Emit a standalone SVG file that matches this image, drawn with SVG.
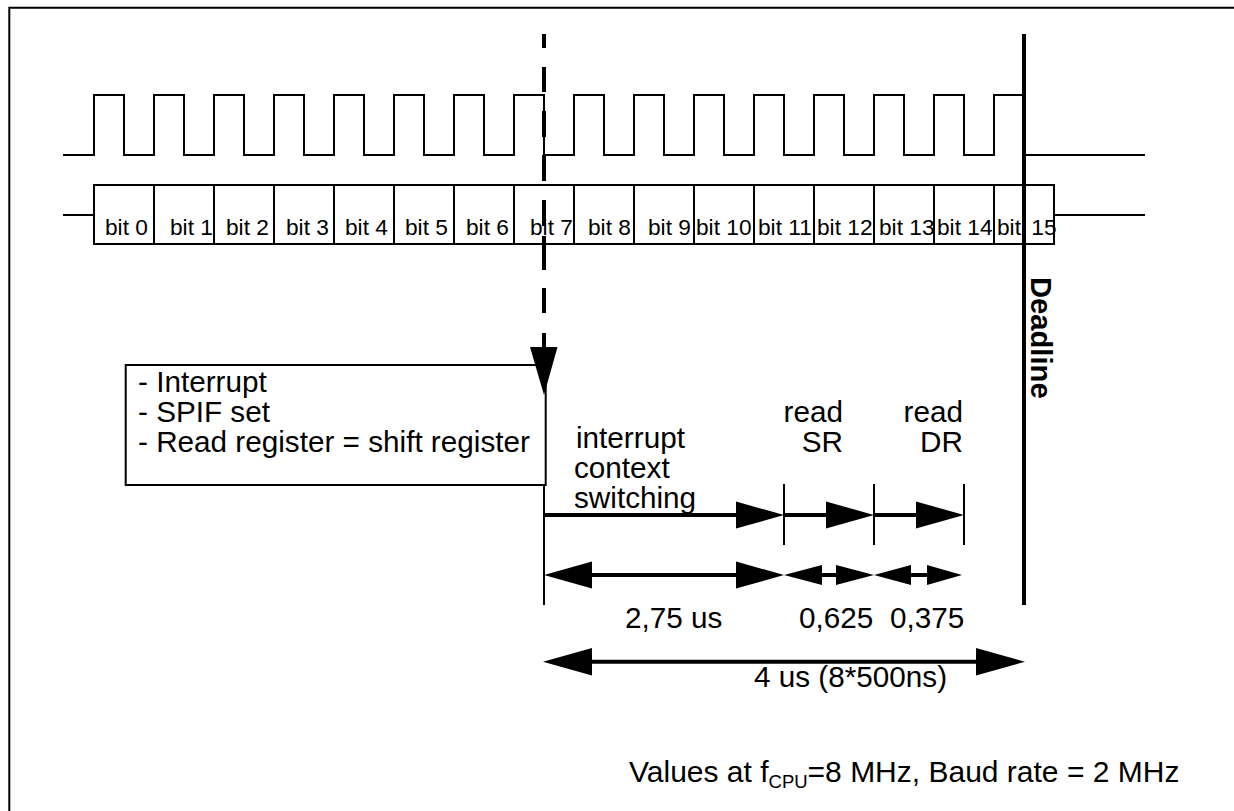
<svg xmlns="http://www.w3.org/2000/svg" width="1234" height="811" viewBox="0 0 1234 811">
<style>
text{font-family:"Liberation Sans",Arial,sans-serif;fill:#000}
.t{font-size:29.7px}
.b{font-size:22.7px}
.e{text-anchor:end}
.l{fill:none;stroke:#000;stroke-width:2}
.m{fill:none;stroke:#000;stroke-width:4}
.k{fill:none;stroke:#000;stroke-width:4}
.h{fill:#000;stroke:none}
</style>
<rect width="1234" height="811" fill="#fff"/>
<g id="frame"><path class="l" d="M9.3 811V7.7H1234"/></g>
<g id="clock-signal"><path class="l" d="M63 155H94V95H124V155H154V95H184V155H214V95H244V155H274V95H304V155H334V95H364V155H394V95H424V155H454V95H484V155H514V95H544V155H574V95H604V155H634V95H664V155H694V95H724V155H754V95H784V155H814V95H844V155H874V95H904V155H934V95H964V155H994V95H1024V155H1145"/></g>
<g id="data-bits">
<path class="l" d="M63 215H94M1054 215H1145M94 185H1054V244H94ZM154 185V244M214 185V244M274 185V244M334 185V244M394 185V244M454 185V244M514 185V244M574 185V244M634 185V244M694 185V244M754 185V244M814 185V244M874 185V244M934 185V244M994 185V244"/>
<g class="b">
<text x="105" y="235">bit 0</text><text x="170" y="235">bit 1</text><text x="226" y="235">bit 2</text><text x="286" y="235">bit 3</text><text x="345" y="235">bit 4</text><text x="405" y="235">bit 5</text><text x="466" y="235">bit 6</text><text x="530" y="235">bit 7</text><text x="588" y="235">bit 8</text><text x="648" y="235">bit 9</text><text x="696" y="235">bit 10</text><text x="758" y="235">bit 11</text><text x="817" y="235">bit 12</text><text x="879" y="235">bit 13</text><text x="937" y="235">bit 14</text><text x="997" y="235" word-spacing="4">bit 15</text>
</g>
</g>
<g id="interrupt-box">
<rect class="l" x="125.7" y="365" width="420" height="120"/>
<text class="t" x="138" y="392">- Interrupt</text>
<text class="t" x="138" y="422">- SPIF set</text>
<text class="t" x="138" y="452">- Read register = shift register</text>
</g>
<g id="connectors">
<path class="k" d="M544 34V48M544 67V92M544 111V137M544 155V181M544 200V226M544 236V270M544 288V313M544 333V350"/>
<polygon class="h" points="530,347 557.5,347 544,395"/>
<path class="k" d="M1024 34V605"/>
<path class="l" d="M544 485V605M784 484V545M874 484V545M964 484V545"/>
<path class="m" d="M544 515H740M784 515H830M874 515H920M592 575H740M820 575H838M910 575H928M590 661.7H980"/>
<polygon class="h" points="736,501.5 784,515 736,528.5"/>
<polygon class="h" points="826,501.5 874,515 826,528.5"/>
<polygon class="h" points="916,501.5 964,515 916,528.5"/>
<polygon class="h" points="592,561.5 544,575 592,588.500"/>
<polygon class="h" points="736,561.5 784,575 736,588.5"/>
<polygon class="h" points="822,565 784,575 822,585"/>
<polygon class="h" points="836,565 874,575 836,585"/>
<polygon class="h" points="911,565 874,575 911,585"/>
<polygon class="h" points="927,565 962,575 927,585"/>
<polygon class="h" points="592,648 543,661.7 592,675.400"/>
<polygon class="h" points="976,648 1025,661.7 976,675.400"/>
</g>
<g id="deadline-label"><text font-size="29.2" font-weight="700" transform="translate(1031 277) rotate(90)">Deadline</text></g>
<g id="labels">
<text class="t" x="576" y="448">interrupt</text>
<text class="t" x="574" y="478">context</text>
<text class="t" x="574" y="508">switching</text>
<text class="t e" x="843" y="422">read</text>
<text class="t e" x="843" y="452">SR</text>
<text class="t e" x="963" y="422">read</text>
<text class="t e" x="963" y="452">DR</text>
<text class="t" x="625" y="628">2,75 us</text>
<text class="t" x="799" y="628">0,625</text>
<text class="t" x="890" y="628">0,375</text>
<text class="t" x="754" y="687">4 us (8*500ns)</text>
<text x="629" y="782" font-size="30">Values at f<tspan font-size="18.500" dy="6">CPU</tspan><tspan dy="-6">=8 MHz, Baud rate = 2 MHz</tspan></text>
</g>
</svg>
